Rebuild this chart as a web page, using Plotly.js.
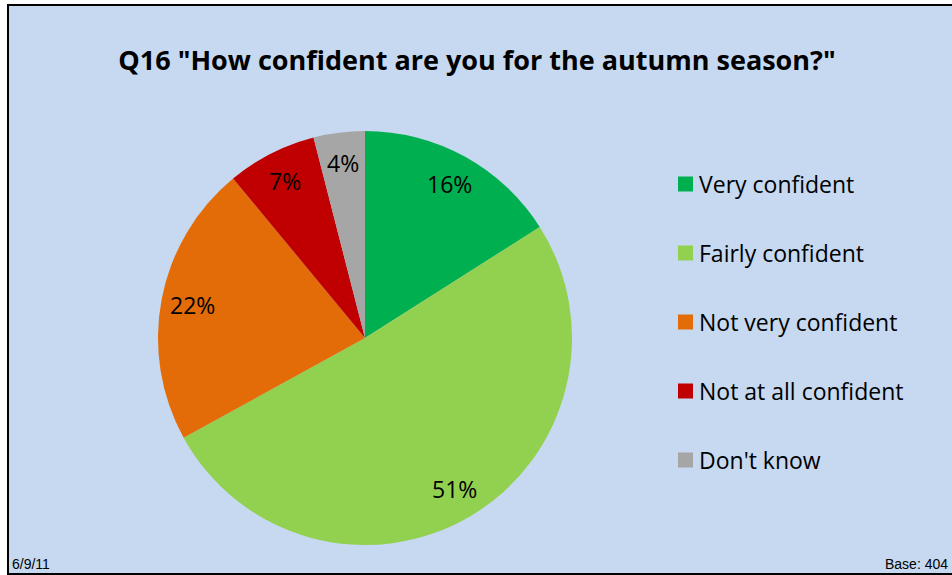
<!DOCTYPE html>
<html>
<head>
<meta charset="utf-8">
<script src="https://cdn.plot.ly/plotly-3.0.1.min.js"></script>
<style>
  html, body { margin: 0; padding: 0; background: #ffffff; overflow: hidden; width: 952px; height: 575px; }
  #frame { position: absolute; left: 7px; top: 4px; width: 960px; height: 567px; background: #C6D9F0; border: 2px solid #000; }
  #chart { position: absolute; left: 0; top: 0; width: 952px; height: 575px; }
</style>
</head>
<body>
<div id="frame"></div>
<div id="chart"></div>
<script>
const categories = ["Very confident", "Fairly confident", "Not very confident", "Not at all confident", "Don't know"];
const values = [16, 51, 22, 7, 4];
const colors = ["#00B050", "#92D050", "#E36C09", "#C00000", "#A6A6A6"];
const titleText = 'Q16 "How confident are you for the autumn season?"';
const dateText = "6/9/11";
const baseText = "Base: 404";

const W = 952, H = 575;
const cx = 365, cy = 338, R = 207;
const px = x => x / W;
const py = y => 1 - y / H;
const font = "'Open Sans', Calibri, Carlito, sans-serif";
const footFont = "Arial, 'Liberation Sans', sans-serif";

const annotations = [];
const shapes = [];

// data labels positioned along each slice's mid angle
const total = values.reduce((a, b) => a + b, 0);
let cum = 0;
values.forEach(v => {
  const mid = (cum + v / 2) / total * 2 * Math.PI;
  cum += v;
  const rr = 0.85 * R;
  annotations.push({
    xref: "paper", yref: "paper",
    x: px(cx + rr * Math.sin(mid)), y: py(cy - rr * Math.cos(mid)),
    text: Math.round(v / total * 100) + "%",
    showarrow: false, xanchor: "center", yanchor: "middle",
    font: { family: font, size: 23, color: "#000" }
  });
});

// legend
categories.forEach((c, i) => {
  const yc = 184 + i * 69;
  shapes.push({
    type: "rect", xref: "paper", yref: "paper",
    x0: px(678), x1: px(693), y0: py(yc + 7.5), y1: py(yc - 7.5),
    fillcolor: colors[i], line: { width: 0 }
  });
  annotations.push({
    xref: "paper", yref: "paper", x: px(697), y: py(yc),
    text: c, showarrow: false, xanchor: "left", yanchor: "middle",
    font: { family: font, size: 23, color: "#000" }
  });
});

// footer
annotations.push({
  xref: "paper", yref: "paper", x: px(10), y: py(564), text: dateText,
  showarrow: false, xanchor: "left", yanchor: "middle",
  font: { family: footFont, size: 14, color: "#000" }
});
annotations.push({
  xref: "paper", yref: "paper", x: px(950), y: py(564), text: baseText,
  showarrow: false, xanchor: "right", yanchor: "middle",
  font: { family: footFont, size: 14, color: "#000" }
});

const trace = {
  type: "pie",
  labels: categories,
  values: values,
  sort: false,
  direction: "clockwise",
  rotation: 0,
  textinfo: "none",
  hoverinfo: "label+percent",
  marker: { colors: colors, line: { width: 0 } },
  domain: { x: [px(cx - R), px(cx + R)], y: [py(cy + R), py(cy - R)] }
};

const layout = {
  width: W, height: H,
  margin: { l: 0, r: 0, t: 0, b: 0 },
  paper_bgcolor: "rgba(0,0,0,0)",
  plot_bgcolor: "rgba(0,0,0,0)",
  showlegend: false,
  title: {
    text: "<b>" + titleText + "</b>",
    x: px(477), xanchor: "center", y: py(61), yanchor: "middle",
    font: { family: font, size: 27, color: "#000" }
  },
  annotations: annotations,
  shapes: shapes
};

Plotly.newPlot("chart", [trace], layout, { displayModeBar: false, staticPlot: true });
</script>
</body>
</html>
